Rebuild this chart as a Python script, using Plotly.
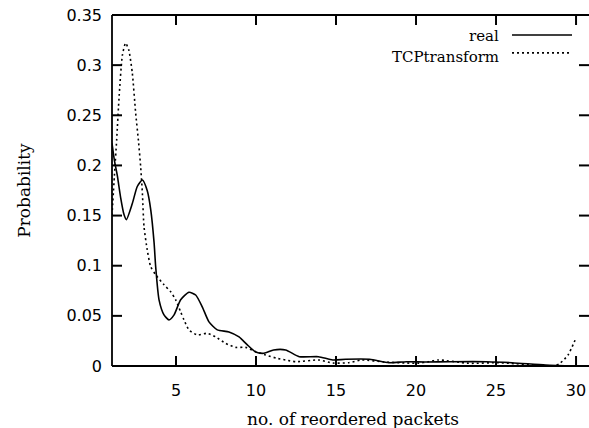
import plotly.graph_objects as go

# Probability distribution of the number of reordered packets
real_x = [1.0, 1.15, 1.33, 1.54, 1.75, 1.9, 2.27, 2.58, 2.9, 3.2, 3.42, 3.63, 3.73,
          3.94, 4.25, 4.56, 4.88, 5.29, 5.81, 6.23, 6.64, 7.06, 7.58, 8.31, 8.94,
          9.46, 9.98, 10.5, 11.1, 11.85, 12.7, 13.9, 14.8, 15.6, 17.1, 18.3, 19.4,
          20.6, 22.1, 24.4, 26.0, 28.1, 30.0]
real_y = [0.222, 0.205, 0.19, 0.168, 0.151, 0.146, 0.162, 0.179, 0.1855, 0.175,
          0.156, 0.123, 0.099, 0.066, 0.051, 0.046, 0.051, 0.066, 0.0735, 0.0708,
          0.059, 0.044, 0.036, 0.034, 0.029, 0.021, 0.014, 0.0127, 0.016, 0.016,
          0.0093, 0.0093, 0.006, 0.0067, 0.0067, 0.0033, 0.0043, 0.004, 0.0043,
          0.0043, 0.0033, 0.001, 0.0]

tcp_x = [1.0, 1.15, 1.29, 1.45, 1.65, 1.85, 2.05, 2.27, 2.48, 2.65, 2.79, 2.9, 3.0,
         3.2, 3.42, 3.73, 4.25, 4.67, 4.98, 5.29, 5.5, 5.81, 6.33, 6.96, 7.48, 8.1,
         8.73, 9.35, 9.98, 10.6, 11.3, 11.85, 12.5, 13.9, 14.8, 15.8, 16.6, 18.0,
         19.4, 20.1, 20.8, 21.4, 23.3, 25.0, 25.8, 27.5, 28.6, 29.0, 29.5, 30.0]
tcp_y = [0.15, 0.19, 0.225, 0.27, 0.31, 0.322, 0.315, 0.292, 0.252, 0.225, 0.199,
         0.172, 0.139, 0.116, 0.099, 0.091, 0.081, 0.074, 0.066, 0.054, 0.046,
         0.036, 0.031, 0.0326, 0.029, 0.0226, 0.0186, 0.0186, 0.0143, 0.011,
         0.0077, 0.006, 0.0043, 0.006, 0.003, 0.0033, 0.006, 0.004, 0.003, 0.0027,
         0.0043, 0.006, 0.0027, 0.0033, 0.0027, 0.001, 0.0, 0.0027, 0.011, 0.028]

x_ticks = [5, 10, 15, 20, 25, 30]
y_ticks = [0, 0.05, 0.1, 0.15, 0.2, 0.25, 0.3, 0.35]
y_tick_text = ["0", "0.05", "0.1", "0.15", "0.2", "0.25", "0.3", "0.35"]

TICK_FONT = dict(family="DejaVu Sans", size=16, color="black")
TEXT_FONT = dict(family="DejaVu Serif", size=17, color="black")
KEY_FONT = dict(family="DejaVu Serif", size=15, color="black")
X_RANGE = [1, 30.81]
Y_RANGE = [0, 0.35]
TICK_LEN = 10  # px, ticks point into the plot on all four sides

fig = go.Figure()
fig.add_trace(go.Scatter(x=real_x, y=real_y, mode="lines", name="real",
                         line=dict(color="black", width=1.6, shape="spline",
                                   smoothing=0.6)))
fig.add_trace(go.Scatter(x=tcp_x, y=tcp_y, mode="lines", name="TCPtransform",
                         line=dict(color="black", width=1.6, shape="spline",
                                   smoothing=0.6, dash="2px,3px")))

fig.update_layout(
    width=589, height=428,
    margin=dict(l=112, r=0, t=15, b=62),
    paper_bgcolor="white", plot_bgcolor="white",
    showlegend=False,
    xaxis=dict(range=X_RANGE, tickvals=x_ticks, ticks="", showgrid=False,
               zeroline=False, showline=False, tickfont=TICK_FONT,
               ticklabelstandoff=13),
    yaxis=dict(range=Y_RANGE, tickvals=y_ticks, ticktext=y_tick_text, ticks="",
               showgrid=False, zeroline=False, showline=False, tickfont=TICK_FONT,
               ticklabelstandoff=9),
)

# frame: left, bottom and top borders (the right border falls past the page edge)
frame = dict(type="line", xref="paper", yref="paper",
             line=dict(color="black", width=1.8), layer="above")
fig.add_shape(x0=0, x1=0, y0=0, y1=1, **frame)
fig.add_shape(x0=0, x1=1, y0=0, y1=0, **frame)
fig.add_shape(x0=0, x1=1, y0=1, y1=1, **frame)

# inward tick marks, placed on the axis scales at the tick values
tick_line = dict(color="black", width=2)
for v in x_ticks:
    for anchor, length in ((0, TICK_LEN), (1, -TICK_LEN)):
        fig.add_shape(type="line", xref="x", yref="paper", x0=v, x1=v,
                      ysizemode="pixel", yanchor=anchor, y0=0, y1=length,
                      line=tick_line, layer="above")
for v in y_ticks:
    for anchor, length in ((0, TICK_LEN), (1, -TICK_LEN)):
        fig.add_shape(type="line", yref="y", xref="paper", y0=v, y1=v,
                      xsizemode="pixel", xanchor=anchor, x0=0, x1=length,
                      line=tick_line, layer="above")

# axis titles
fig.add_annotation(text="no. of reordered packets", xref="paper", yref="paper",
                   x=0.506, y=-0.152, xanchor="center", yanchor="middle",
                   showarrow=False, font=TEXT_FONT)
fig.add_annotation(text="Probability", xref="paper", yref="paper",
                   x=-0.186, y=0.5, xanchor="center", yanchor="middle",
                   textangle=-90, showarrow=False, font=TEXT_FONT)

# key in the upper right: label on the left, line sample on the right
key = [("real", 0.94, 0.943, "solid"), ("TCPtransform", 0.879, 0.892, "2px,3px")]
for label, ty, ly, dash in key:
    fig.add_annotation(text=label, xref="paper", yref="paper", x=0.815, y=ty,
                       xanchor="right", yanchor="middle", showarrow=False,
                       font=KEY_FONT)
    fig.add_shape(type="line", xref="paper", yref="paper", x0=0.8386, x1=0.9644,
                  y0=ly, y1=ly, line=dict(color="black", width=1.6, dash=dash))

fig.write_html("out.html")
